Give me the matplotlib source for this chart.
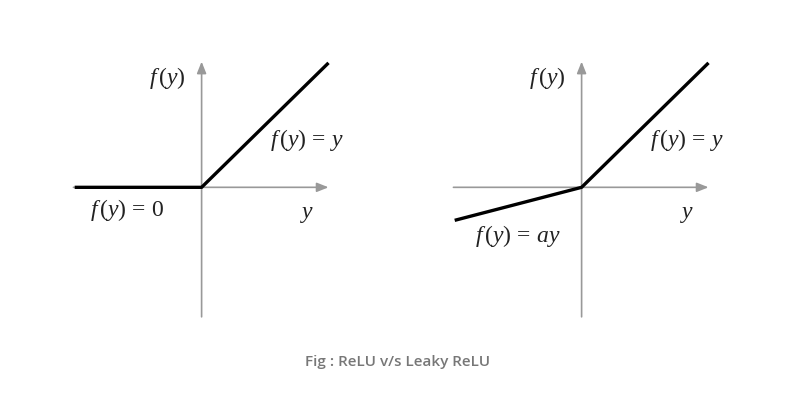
import matplotlib
matplotlib.use('Agg')
import matplotlib.pyplot as plt

plt.rcParams['mathtext.fontset'] = 'custom'
plt.rcParams['mathtext.rm'] = 'Liberation Serif'
plt.rcParams['mathtext.it'] = 'Liberation Serif:italic'

# data (function values at y = -1, 0, 1)
y_vals = [-1.0, 0.0, 1.0]
relu_vals = [0.0, 0.0, 0.98]
leaky_vals = [-0.26, 0.0, 0.98]

panels = [
    (0.0775, relu_vals, r'$f\,(y)\,=\,0$', (-0.59, -0.18)),
    (0.5525, leaky_vals, r'$f\,(y)\,=\,ay$', (-0.5, -0.38)),
]

axis_grey = '#999999'
text_col = '#222222'

fig = plt.figure(figsize=(8, 4.09), dpi=100)

for left, vals, neg_label, neg_pos in panels:
    ax = fig.add_axes([left, 0.2005, 0.349, 0.683])
    ax.set_xlim(-1.1, 1.1)
    ax.set_ylim(-1.1, 1.1)
    ax.axis('off')

    # axes with arrows
    ax.annotate('', xy=(1.0, 0), xytext=(-1.01, 0),
                arrowprops=dict(arrowstyle='-|>,head_length=0.7,head_width=0.28',
                                color=axis_grey, lw=1.2, shrinkA=0, shrinkB=0))
    ax.annotate('', xy=(0, 0.99), xytext=(0, -1.02),
                arrowprops=dict(arrowstyle='-|>,head_length=0.7,head_width=0.28',
                                color=axis_grey, lw=1.2, shrinkA=0, shrinkB=0))

    ax.plot(y_vals, vals, color='black', lw=2.4, solid_capstyle='butt', zorder=3)

    ax.text(-0.27, 0.86, r'$f\,(y)$', fontsize=17, color=text_col, ha='center', va='center')
    ax.text(0.83, 0.37, r'$f\,(y)\,=\,y$', fontsize=17, color=text_col, ha='center', va='center')
    ax.text(neg_pos[0], neg_pos[1], neg_label, fontsize=17, color=text_col, ha='center', va='center')
    ax.text(0.83, -0.2, r'$y$', fontsize=17, color=text_col, ha='center', va='center')

fig.text(0.4975, 0.115, 'Fig : ReLU v/s Leaky ReLU', fontsize=11, fontfamily='Open Sans',
         fontweight='semibold', color='#777777', ha='center', va='center')

fig.savefig('out.png', dpi=100, facecolor='white')
